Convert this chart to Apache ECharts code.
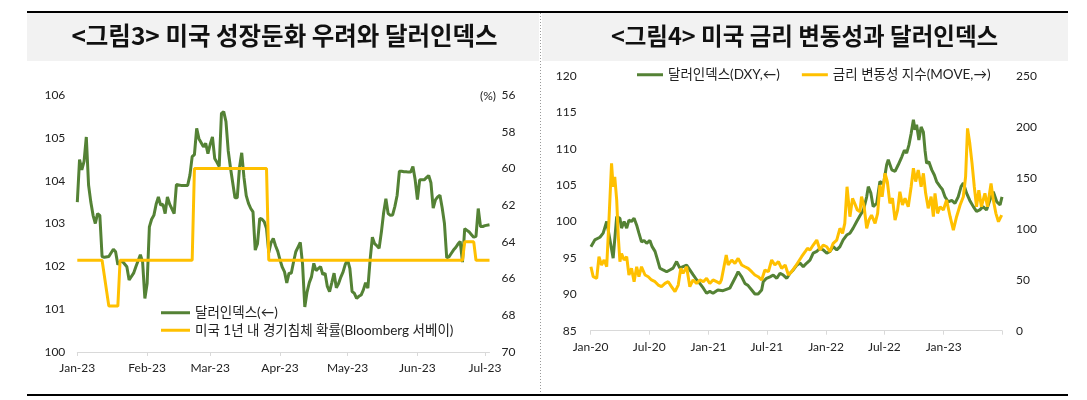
<!DOCTYPE html>
<html>
<head>
<meta charset="utf-8">
<script src="https://cdn.jsdelivr.net/npm/echarts@6/dist/echarts.min.js"></script>
<style>html,body{margin:0;padding:0;background:#fff}#c{width:1087px;height:400px}</style>
</head>
<body>
<div id="c"></div>
<script>
// ---------- DATA ----------
const monthNames = ['Jan','Feb','Mar','Apr','May','Jun','Jul','Aug','Sep','Oct','Nov','Dec'];
const title3 = '<그림3> 미국 성장둔화 우려와 달러인덱스';
const title4 = '<그림4> 미국 금리 변동성과 달러인덱스';
const nameL1 = '달러인덱스(←)';
const nameL2 = '미국 1년 내 경기침체 확률(Bloomberg 서베이)';
const nameR1 = '달러인덱스(DXY,←)';
const nameR2 = '금리 변동성 지수(MOVE,→)';

// Figure 3: dollar index 2023 (left axis)
const dxy2023 = [
['2023-01-01',103.50],['2023-01-02',104.49],['2023-01-03',104.25],['2023-01-04',104.45],['2023-01-05',105.02],
['2023-01-06',103.90],['2023-01-07',103.50],['2023-01-08',103.19],['2023-01-09',103.00],['2023-01-10',103.23],
['2023-01-11',103.19],['2023-01-12',102.23],['2023-01-13',102.21],['2023-01-15',102.23],['2023-01-17',102.40],
['2023-01-18',102.34],['2023-01-19',102.04],['2023-01-20',102.10],['2023-01-21',102.12],['2023-01-23',101.99],
['2023-01-24',101.68],['2023-01-26',101.84],['2023-01-27',101.99],['2023-01-29',102.27],['2023-01-30',102.10],
['2023-01-31',101.25],['2023-02-01',101.60],['2023-02-02',102.92],['2023-02-03',103.10],['2023-02-04',103.19],
['2023-02-05',103.45],['2023-02-06',103.62],['2023-02-07',103.43],['2023-02-08',103.45],['2023-02-09',103.23],
['2023-02-10',103.62],['2023-02-11',103.45],['2023-02-13',103.23],['2023-02-14',103.91],['2023-02-16',103.89],
['2023-02-19',103.89],['2023-02-20',104.13],['2023-02-21',104.56],['2023-02-22',104.61],['2023-02-23',105.22],
['2023-02-24',104.98],['2023-02-26',104.79],['2023-02-27',104.87],['2023-02-28',104.63],['2023-03-01',104.85],
['2023-03-02',105.02],['2023-03-03',104.52],['2023-03-04',104.43],['2023-03-05',104.33],['2023-03-06',105.57],
['2023-03-07',105.61],['2023-03-08',105.38],['2023-03-09',104.70],['2023-03-10',104.30],['2023-03-11',103.95],
['2023-03-12',103.60],['2023-03-13',103.60],['2023-03-14',104.30],['2023-03-15',104.65],['2023-03-16',104.07],
['2023-03-17',103.65],['2023-03-18',103.47],['2023-03-19',103.35],['2023-03-20',103.27],['2023-03-21',102.38],
['2023-03-22',102.53],['2023-03-23',103.12],['2023-03-24',103.10],['2023-03-25',103.04],['2023-03-26',102.88],
['2023-03-27',102.32],['2023-03-28',102.55],['2023-03-29',102.65],['2023-03-30',102.48],['2023-03-31',102.35],
['2023-04-01',102.15],['2023-04-02',101.98],['2023-04-03',101.87],['2023-04-04',101.61],['2023-04-05',101.84],
['2023-04-06',101.84],['2023-04-07',102.10],['2023-04-08',102.34],['2023-04-09',102.45],['2023-04-10',102.56],
['2023-04-11',102.05],['2023-04-12',101.05],['2023-04-13',101.40],['2023-04-14',101.62],['2023-04-15',101.76],
['2023-04-16',102.07],['2023-04-17',101.90],['2023-04-18',101.95],['2023-04-19',101.99],['2023-04-20',101.81],
['2023-04-21',101.84],['2023-04-22',101.53],['2023-04-23',101.41],['2023-04-24',101.62],['2023-04-25',101.84],
['2023-04-26',101.50],['2023-04-27',101.60],['2023-04-28',101.75],['2023-04-29',101.87],['2023-04-30',102.05],
['2023-05-01',102.15],['2023-05-02',101.95],['2023-05-03',101.41],['2023-05-04',101.37],['2023-05-05',101.25],
['2023-05-06',101.30],['2023-05-07',101.33],['2023-05-08',101.45],['2023-05-09',101.62],['2023-05-10',101.49],
['2023-05-11',102.15],['2023-05-12',102.68],['2023-05-13',102.53],['2023-05-14',102.48],['2023-05-15',102.42],
['2023-05-16',102.80],['2023-05-17',103.25],['2023-05-18',103.58],['2023-05-19',103.23],['2023-05-20',103.19],
['2023-05-21',103.20],['2023-05-22',103.40],['2023-05-23',103.66],['2023-05-24',104.22],['2023-05-25',104.22],
['2023-05-26',104.21],['2023-05-27',104.21],['2023-05-28',104.20],['2023-05-29',104.20],['2023-05-30',104.33],
['2023-05-31',104.02],['2023-06-01',103.56],['2023-06-02',104.02],['2023-06-03',104.02],['2023-06-04',104.02],
['2023-06-05',104.07],['2023-06-06',104.12],['2023-06-07',103.95],['2023-06-08',103.36],['2023-06-09',103.55],
['2023-06-10',103.62],['2023-06-11',103.66],['2023-06-12',103.36],['2023-06-13',103.00],['2023-06-14',102.20],
['2023-06-15',102.22],['2023-06-16',102.30],['2023-06-17',102.38],['2023-06-18',102.44],['2023-06-19',102.52],
['2023-06-20',102.58],['2023-06-21',102.10],['2023-06-22',102.88],['2023-06-23',102.84],['2023-06-24',102.80],
['2023-06-25',102.74],['2023-06-26',102.68],['2023-06-27',102.70],['2023-06-28',103.35],['2023-06-29',102.93],
['2023-06-30',102.93],['2023-07-01',102.95],['2023-07-03',102.97]
];

// Figure 3: US recession probability within 1 year, % (right axis, inverted)
const recessionProb = [
['2023-01-01',65],['2023-01-12',65],['2023-01-15',67.5],['2023-01-19',67.5],['2023-01-20',65],
['2023-02-21',65],['2023-02-22',60],['2023-03-26',60],['2023-03-27',65],['2023-06-21',65],
['2023-06-22',64],['2023-06-26',64],['2023-06-27',65],['2023-07-03',65]
];

// Figure 4: dollar index 2020-2023 (left axis)
const dxyLong = [
['2020-01-02',96.55],['2020-01-14',97.47],['2020-01-30',97.84],['2020-02-09',98.4],['2020-02-20',100.0],
['2020-03-11',94.96],['2020-03-22',100.67],['2020-04-01',100.45],['2020-04-06',99.1],['2020-04-14',100.0],
['2020-04-22',99.1],['2020-04-29',100.2],['2020-05-07',100.0],['2020-05-15',100.45],['2020-05-23',99.5],
['2020-05-30',98.4],['2020-06-07',97.2],['2020-06-15',97.4],['2020-06-23',97.0],['2020-07-03',97.4],
['2020-07-10',96.55],['2020-07-19',95.9],['2020-07-27',94.7],['2020-08-03',93.6],['2020-08-13',93.35],
['2020-08-24',93.1],['2020-09-03',93.35],['2020-09-13',93.6],['2020-09-24',94.5],['2020-10-04',93.6],
['2020-10-14',93.8],['2020-10-25',94.0],['2020-11-04',93.35],['2020-11-14',92.7],['2020-11-25',92.0],
['2020-12-05',91.5],['2020-12-16',90.84],['2020-12-26',90.15],['2021-01-05',90.4],['2021-01-15',90.15],
['2021-01-30',90.6],['2021-02-05',90.6],['2021-02-15',90.5],['2021-02-20',90.4],['2021-03-08',90.84],
['2021-03-24',92.2],['2021-04-03',93.1],['2021-04-14',92.4],['2021-04-24',91.5],['2021-05-04',91.2],
['2021-05-15',90.6],['2021-05-25',90.05],['2021-06-04',90.05],['2021-06-15',90.6],['2021-06-20',91.75],
['2021-06-30',92.2],['2021-07-11',92.4],['2021-07-21',92.65],['2021-08-01',92.2],['2021-08-11',92.9],
['2021-08-21',92.65],['2021-09-01',92.2],['2021-09-11',92.9],['2021-09-21',93.35],['2021-10-02',94.0],
['2021-10-12',94.3],['2021-10-22',93.8],['2021-11-02',94.3],['2021-11-12',94.7],['2021-11-22',95.65],
['2021-12-03',95.9],['2021-12-13',96.3],['2021-12-23',96.1],['2022-01-03',95.65],['2022-01-13',95.9],
['2022-01-23',96.55],['2022-02-03',96.1],['2022-02-13',96.55],['2022-02-23',97.47],['2022-03-06',98.15],
['2022-03-16',98.4],['2022-03-26',99.1],['2022-04-06',100.0],['2022-04-16',100.8],['2022-04-27',101.6],
['2022-05-07',103.4],['2022-05-12',104.8],['2022-05-20',103.9],['2022-05-27',102.05],['2022-06-07',102.5],
['2022-06-17',105.5],['2022-06-28',105.1],['2022-07-08',107.8],['2022-07-13',108.5],['2022-07-24',107.1],
['2022-08-03',106.9],['2022-08-13',107.8],['2022-08-24',108.9],['2022-09-01',109.8],['2022-09-08',109.4],
['2022-09-15',110.5],['2022-09-22',112.1],['2022-09-29',114.0],['2022-10-04',112.6],['2022-10-09',113.3],
['2022-10-16',111.2],['2022-10-23',113.0],['2022-10-30',112.3],['2022-11-04',109.8],['2022-11-09',108.0],
['2022-11-16',108.2],['2022-11-25',107.1],['2022-12-03',106.4],['2022-12-10',105.5],['2022-12-21',104.8],
['2022-12-28',104.4],['2023-01-05',103.4],['2023-01-15',102.7],['2023-01-26',102.9],['2023-02-05',102.5],
['2023-02-15',103.4],['2023-02-24',104.8],['2023-03-03',105.3],['2023-03-13',103.9],['2023-03-23',102.9],
['2023-04-03',102.05],['2023-04-13',101.4],['2023-04-23',101.6],['2023-05-03',102.05],['2023-05-14',101.6],
['2023-05-24',102.9],['2023-06-04',104.1],['2023-06-15',102.7],['2023-06-25',102.3],['2023-07-01',103.4]
];

// Figure 4: MOVE index (right axis)
const moveIndex = [
['2020-01-02',62.8],['2020-01-09',53],['2020-01-20',51.4],['2020-01-27',72.6],['2020-02-04',64.5],
['2020-02-12',69.4],['2020-02-20',62.8],['2020-02-27',108.6],['2020-03-06',164.3],['2020-03-11',141.3],
['2020-03-16',151.1],['2020-03-22',128.3],['2020-03-27',92.2],['2020-04-01',67.7],['2020-04-06',75.7],
['2020-04-14',69.4],['2020-04-22',72.6],['2020-04-29',54.7],['2020-05-07',61.2],['2020-05-15',48.1],
['2020-05-23',62.8],['2020-05-30',53],['2020-06-07',62.8],['2020-06-18',54.7],['2020-06-28',53],
['2020-07-08',49.8],['2020-07-19',48.1],['2020-07-29',44.8],['2020-08-08',43.2],['2020-08-19',46.4],
['2020-08-29',48.1],['2020-09-08',43.2],['2020-09-19',38.3],['2020-09-29',44.8],['2020-10-07',61.2],
['2020-10-14',56.3],['2020-10-25',62.8],['2020-11-04',43.2],['2020-11-14',49.8],['2020-11-25',46.4],
['2020-12-05',49.8],['2020-12-16',48.1],['2020-12-26',51.4],['2021-01-05',46.4],['2021-01-15',49.8],
['2021-01-26',48.1],['2021-02-05',46.5],['2021-02-10',49.8],['2021-02-15',48.1],['2021-02-25',74.3],
['2021-03-03',64.5],['2021-03-14',69.4],['2021-03-24',66.1],['2021-04-03',71],['2021-04-14',64.5],
['2021-04-24',62.8],['2021-05-04',61.2],['2021-05-15',57.9],['2021-05-25',54.7],['2021-06-04',53],
['2021-06-15',49.8],['2021-06-25',59.6],['2021-07-06',57.9],['2021-07-16',69.4],['2021-07-26',64.5],
['2021-08-06',67.7],['2021-08-16',61.2],['2021-08-27',64.5],['2021-09-06',54.7],['2021-09-16',57.9],
['2021-09-27',62.8],['2021-10-07',67.7],['2021-10-17',72.6],['2021-10-28',77.5],['2021-11-04',80.8],
['2021-11-12',79.2],['2021-11-22',84.1],['2021-12-03',89],['2021-12-13',79.2],['2021-12-23',84.1],
['2022-01-03',82.4],['2022-01-13',77.5],['2022-01-23',85.8],['2022-02-03',89],['2022-02-13',100.5],
['2022-02-21',95.6],['2022-02-28',105.4],['2022-03-07',141.3],['2022-03-16',111.9],['2022-03-24',129.9],
['2022-04-01',124],['2022-04-08',118.4],['2022-04-16',116.9],['2022-04-21',131.5],['2022-04-29',121.7],
['2022-05-07',100.5],['2022-05-14',108.6],['2022-05-22',113.5],['2022-06-02',105.4],['2022-06-10',115.2],
['2022-06-17',143],['2022-06-24',131.5],['2022-07-03',154.5],['2022-07-10',146.4],['2022-07-18',125],
['2022-07-26',130],['2022-08-03',108.6],['2022-08-11',118.4],['2022-08-18',136.4],['2022-08-26',123.4],
['2022-09-03',130],['2022-09-13',121.7],['2022-09-22',141.3],['2022-09-29',159.4],['2022-10-06',146.4],
['2022-10-14',157.7],['2022-10-23',141.3],['2022-10-30',154.5],['2022-11-06',134.8],['2022-11-14',120.1],
['2022-11-23',131.5],['2022-11-30',111.9],['2022-12-05',134.8],['2022-12-13',115.2],['2022-12-21',121.7],
['2022-12-31',118.4],['2023-01-10',128.3],['2023-01-21',111.9],['2023-01-31',98.8],['2023-02-10',111.9],
['2023-02-21',123.4],['2023-03-03',131.5],['2023-03-10',151.1],['2023-03-16',198.6],['2023-03-23',183.9],
['2023-03-30',164.3],['2023-04-06',141.3],['2023-04-13',121.7],['2023-04-20',138],['2023-04-28',121.7],
['2023-05-09',134.8],['2023-05-17',121.7],['2023-05-28',144.6],['2023-06-04',128.3],['2023-06-12',115.2],
['2023-06-20',107],['2023-06-30',113.5]
];

// ---------- CHART ----------
const GREEN = '#548235', GOLD = '#FFC000';
const LBL = '#222', AX = '#d9d9d9';
const DAY = 86400000;
const chart = echarts.init(document.getElementById('c'), null, {renderer: 'canvas'});
function fmtMonth(v){ const d = new Date(v); return monthNames[d.getMonth()] + '-' + String(d.getFullYear()).slice(2); }
const endR = new Date(2023, 6, 1).getTime();
const lblStyle = {color: LBL, fontSize: 12, fontFamily: 'Lato, "Noto Sans CJK KR"'};
const legText = {color: '#222', fontSize: 13.5, fontFamily: 'Lato, "Noto Sans CJK KR"'};

chart.setOption({
  animation: false,
  backgroundColor: '#fff',
  grid: [
    {left: 77.3, top: 95, width: 412.2, height: 257},
    {left: 590.6, top: 76, width: 411.4, height: 254.7}
  ],
  xAxis: [
    {type: 'time', gridIndex: 0, min: '2023-01-01', max: '2023-07-03',
     minInterval: 28 * DAY, maxInterval: 31 * DAY,
     axisLine: {lineStyle: {color: AX, width: 1}}, axisTick: {show: true, length: 4, lineStyle: {color: AX}},
     splitLine: {show: false},
     axisLabel: Object.assign({margin: 10, formatter: fmtMonth, hideOverlap: false}, lblStyle)},
    {type: 'time', gridIndex: 1, min: '2020-01-01', max: '2023-07-01',
     minInterval: 180 * DAY, maxInterval: 184 * DAY,
     axisLine: {lineStyle: {color: AX, width: 1}}, axisTick: {show: true, length: 4, lineStyle: {color: AX}},
     splitLine: {show: false},
     axisLabel: Object.assign({margin: 10, hideOverlap: false, formatter: v => (v >= endR ? '' : fmtMonth(v))}, lblStyle)}
  ],
  yAxis: [
    {type: 'value', gridIndex: 0, min: 100, max: 106, interval: 1,
     axisLine: {show: false}, axisTick: {show: false}, splitLine: {show: false},
     axisLabel: Object.assign({margin: 12}, lblStyle)},
    {type: 'value', gridIndex: 0, position: 'right', inverse: true, min: 56, max: 70, interval: 2,
     axisLine: {show: false}, axisTick: {show: false}, splitLine: {show: false},
     axisLabel: Object.assign({margin: 12}, lblStyle)},
    {type: 'value', gridIndex: 1, min: 85, max: 120, interval: 5,
     axisLine: {show: false}, axisTick: {show: false}, splitLine: {show: false},
     axisLabel: Object.assign({margin: 14}, lblStyle)},
    {type: 'value', gridIndex: 1, position: 'right', min: 0, max: 250, interval: 50,
     axisLine: {show: false}, axisTick: {show: false}, splitLine: {show: false},
     axisLabel: Object.assign({margin: 14}, lblStyle)}
  ],
  legend: [
    {data: [nameL1, nameL2], orient: 'vertical', left: 161, top: 306, itemWidth: 29, itemHeight: 3,
     itemGap: 4, icon: 'rect', selectedMode: false, textStyle: legText, padding: 0},
    {data: [nameR1, nameR2], orient: 'horizontal', left: 637, top: 68, itemWidth: 26, itemHeight: 3,
     itemGap: 22, icon: 'rect', selectedMode: false, textStyle: legText, padding: 0}
  ],
  series: [
    {name: nameL1, type: 'line', xAxisIndex: 0, yAxisIndex: 0, data: dxy2023, showSymbol: false, symbol: 'none',
     color: GREEN, lineStyle: {width: 3, color: GREEN}, z: 2},
    {name: nameL2, type: 'line', xAxisIndex: 0, yAxisIndex: 1, data: recessionProb, showSymbol: false, symbol: 'none',
     color: GOLD, lineStyle: {width: 3, color: GOLD}, z: 3},
    {name: nameR1, type: 'line', xAxisIndex: 1, yAxisIndex: 2, data: dxyLong, showSymbol: false, symbol: 'none',
     color: GREEN, lineStyle: {width: 3, color: GREEN}, z: 2},
    {name: nameR2, type: 'line', xAxisIndex: 1, yAxisIndex: 3, data: moveIndex, showSymbol: false, symbol: 'none',
     color: GOLD, lineStyle: {width: 3, color: GOLD}, z: 3}
  ],
  graphic: [
    {type: 'rect', shape: {x: 27, y: 13, width: 512, height: 48}, style: {fill: '#f2f2f2'}, silent: true, z: -10},
    {type: 'rect', shape: {x: 542, y: 13, width: 526, height: 48}, style: {fill: '#f2f2f2'}, silent: true, z: -10},
    {type: 'rect', shape: {x: 27, y: 11, width: 1041, height: 2}, style: {fill: '#000'}, silent: true},
    {type: 'rect', shape: {x: 27, y: 394, width: 1041, height: 2}, style: {fill: '#000'}, silent: true},
    {type: 'line', shape: {x1: 540.5, y1: 13, x2: 540.5, y2: 394}, style: {stroke: '#9a9a9a', lineWidth: 1, lineDash: [1, 2]}, silent: true},
    {type: 'text', x: 284.5, y: 36, style: {text: title3, fill: '#111', font: 'bold 24.5px "Noto Sans CJK KR"', textAlign: 'center', textVerticalAlign: 'middle'}, silent: true},
    {type: 'text', x: 804.5, y: 36, style: {text: title4, fill: '#111', font: 'bold 23.5px "Noto Sans CJK KR"', textAlign: 'center', textVerticalAlign: 'middle'}, silent: true},
    {type: 'text', x: 488, y: 96, style: {text: '(%)', fill: LBL, font: '12px Lato', textAlign: 'center', textVerticalAlign: 'middle'}, silent: true}
  ]
});
</script>
</body>
</html>
